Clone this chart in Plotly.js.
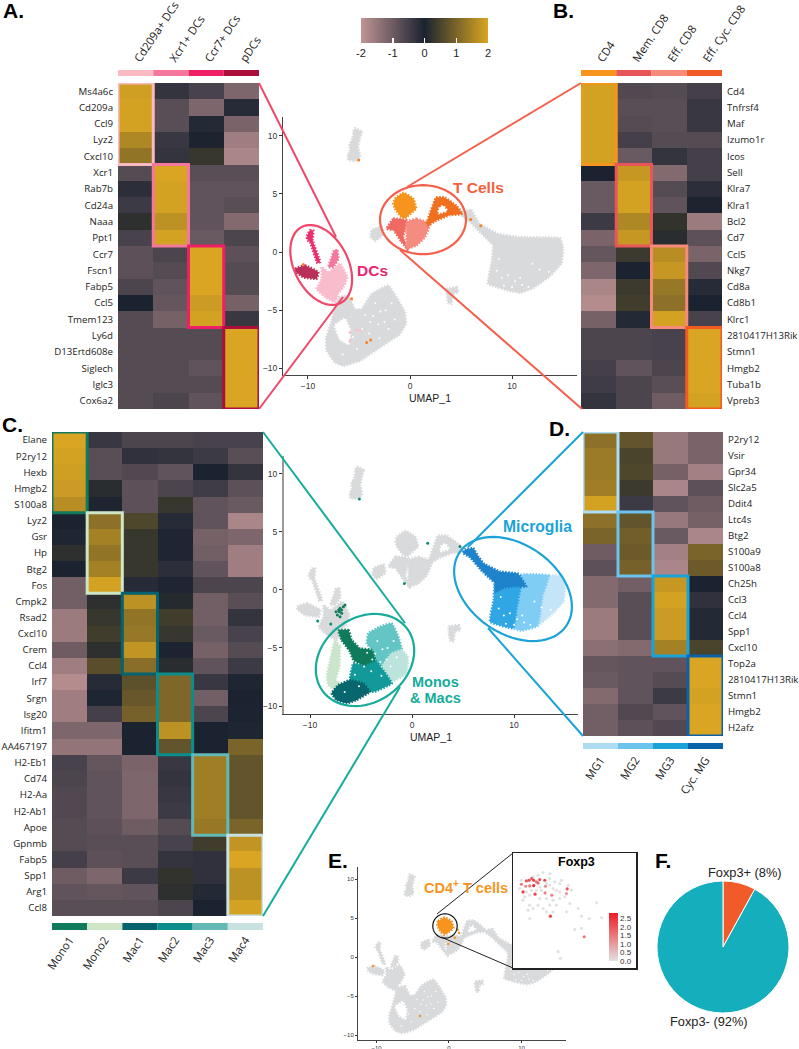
<!DOCTYPE html>
<html><head><meta charset="utf-8"><script src="https://cdn.plot.ly/plotly-3.0.1.min.js"></script>
<style>html,body{margin:0;padding:0;background:#fff}#p{width:799px;height:1049px}</style></head>
<body><div id="p"></div><script>
// ---------- heatmap data ----------
const colsA=["Cd209a+ DCs","Xcr1+ DCs","Ccr7+ DCs","pDCs"];
const genesA=["Ms4a6c","Cd209a","Ccl9","Lyz2","Cxcl10","Xcr1","Rab7b","Cd24a","Naaa","Ppt1","Ccr7","Fscn1","Fabp5","Ccl5","Tmem123","Ly6d","D13Ertd608e","Siglech","Iglc3","Cox6a2"];
const zA=[[1.9,-0.3,-0.55,-1.2],[1.95,-0.75,-1.2,-0.15],[1.95,-0.75,-0.1,-1.15],[1.55,-0.35,0.02,-1.6],[1.25,-0.3,0.3,-1.75],
[-0.7,2,-0.75,-0.75],[-0.2,1.95,-0.85,-0.85],[-0.4,1.95,-0.85,-0.75],[0.2,1.7,-0.85,-1.25],[-0.55,1.95,-0.95,-0.6],
[-0.8,-0.6,2,-0.8],[-0.8,-0.7,2,-0.7],[-0.6,-0.85,2,-0.7],[0,-0.9,1.85,-1.1],[-0.7,-1.1,1.95,-0.35],
[-0.7,-0.7,-0.7,2],[-0.7,-0.7,-0.7,2],[-0.7,-0.7,-0.85,2],[-0.7,-0.7,-0.7,2],[-0.7,-0.6,-0.85,2]];
const colsB=["CD4","Mem. CD8","Eff. CD8","Eff. Cyc. CD8"];
const genesB=["Cd4","Tnfrsf4","Maf","Izumo1r","Icos","Sell","Klra7","Klra1","Bcl2","Cd7","Ccl5","Nkg7","Cd8a","Cd8b1","Klrc1","2810417H13Rik","Stmn1","Hmgb2","Tuba1b","Vpreb3"];
const zB=[[1.95,-0.65,-0.7,-0.5],[1.95,-0.75,-0.75,-0.35],[1.95,-0.7,-0.75,-0.35],[1.95,-0.5,-0.7,-0.7],[1.95,-0.95,-0.3,-0.5],
[0,1.8,-1.25,-0.5],[-0.95,1.95,-0.7,-0.2],[-0.95,1.95,-0.85,0.02],[-0.4,1.55,0.25,-1.55],[-1.15,1.8,0.15,-0.8],
[-0.9,0.35,1.65,-1.15],[-1.2,0,1.8,-0.65],[-1.75,0.35,1.3,-0.15],[-1.85,0.4,1.2,0],[-1.1,-0.1,1.95,-0.55],
[-0.6,-0.6,-0.55,2],[-0.6,-0.6,-0.55,2],[-0.5,-0.85,-0.6,2],[-0.45,-0.6,-0.75,2],[-0.3,-0.6,-1,1.95]];
const colsC=["Mono1","Mono2","Mac1","Mac2","Mac3","Mac4"];
const genesC=["Elane","P2ry12","Hexb","Hmgb2","S100a8","Lyz2","Gsr","Hp","Btg2","Fos","Cmpk2","Rsad2","Cxcl10","Crem","Ccl4","Irf7","Srgn","Isg20","Ifitm1","AA467197","H2-Eb1","Cd74","H2-Aa","H2-Ab1","Apoe","Gpnmb","Fabp5","Spp1","Arg1","Ccl8"];
const zC=[[2,-0.35,-0.6,-0.6,-0.55,-0.55],[1.95,-0.75,-0.25,-0.3,-0.4,-0.75],[1.9,-0.75,-0.65,-0.85,0,-0.3],[1.85,0.15,-0.8,-0.6,-0.45,-0.8],[1.65,0.03,-0.8,0.3,-0.85,-0.95],
[0,1.2,0.55,-0.15,-0.85,-1.75],[-0.05,1.45,0.3,-0.05,-1.1,-1.2],[0.2,1.25,0.3,-0.05,-1.05,-1.6],[0,1.45,0.3,-0.2,-0.85,-1.6],[-1.05,1.95,-0.15,-0.05,-0.6,-0.6],
[-1.05,0.2,1.7,0.1,-1.05,-0.75],[-1.55,0.3,1.25,0.4,-1.05,-0.3],[-1.55,0.4,1.3,0.3,-0.95,-0.55],[-1,0.2,1.75,-0.02,-1.1,-0.7],[-1.6,0.65,1.15,0.15,-0.85,-0.4],
[-1.85,-0.15,0.7,1.05,-0.35,-0.05],[-1.6,-0.05,0.8,1.05,-1.05,0],[-1.6,-0.5,0.95,1.05,-0.6,-0.02],[-1.2,-1.2,0,1.7,0,-0.05],[-1.45,-1.45,0,0.75,0,1],
[-0.55,-0.9,-1.15,-0.35,1.4,0.75],[-0.6,-0.85,-1.2,-0.3,1.4,0.75],[-0.65,-0.85,-1.2,-0.35,1.4,0.75],[-0.65,-0.85,-1.2,-0.4,1.4,0.75],[-0.7,-0.8,-1,-0.7,1.3,1],
[-0.7,-0.75,-0.75,-0.55,0.4,1.75],[-0.5,-0.8,-0.75,-0.3,-0.25,2],[-1,-1.2,-0.4,0.25,-0.25,1.7],[-0.85,-0.9,-0.85,0.2,-0.1,1.7],[-0.75,-0.75,-0.75,-0.6,0,1.95]];
const colsD=["MG1","MG2","MG3","Cyc. MG"];
const genesD=["P2ry12","Vsir","Gpr34","Slc2a5","Ddit4","Ltc4s","Btg2","S100a9","S100a8","Ch25h","Ccl3","Ccl4","Spp1","Cxcl10","Top2a","2810417H13Rik","Stmn1","Hmgb2","H2afz"];
const zD=[[1.2,0.75,-1.5,-1.15],[1.35,0.5,-1.5,-1.15],[1.35,0.55,-1.1,-1.65],[1.4,0.35,-1.75,-0.8],[1.95,-0.4,-0.85,-1],
[1.2,0.75,-1.5,-1.1],[1,0.9,-0.95,-1.75],[-1,0.85,-1.65,1],[-0.8,0.95,-1.75,0.85],
[-1.25,-1.05,1.8,0],[-1.25,-0.75,1.95,-0.25],[-1.55,-0.75,1.85,-0.1],[-1.55,-0.75,1.85,-0.1],[-1.35,-1.25,1.45,0.5],
[-0.9,-0.85,-0.85,2],[-0.95,-0.85,-0.7,2],[-1.25,-0.85,-0.4,1.95],[-1.05,-0.65,-0.85,2],[-1.05,-0.8,-0.65,2]];
const blockA=[[0,5],[5,5],[10,5],[15,5]], blockB=blockA;
const blockC=[[0,5],[5,5],[10,5],[15,5],[20,5],[25,5]];
const blockD=[[0,5],[5,4],[9,5],[14,5]];
// ---------- UMAP cluster outlines (UMAP units) ----------
const topX=[-5.4,-4.74,-4.9,-5.07,-4.9,-5.4,-6.05,-6.1,-5.88,-5.95,-5.62,-5.56], topY=[10.63,10.34,9.77,9.05,8.19,7.84,7.9,8.33,8.76,9.2,9.77,10.34];
const smallX=[-3.76,-2.78,-2.61,-3.43,-3.86], smallY=[1.87,2.21,1.52,0.95,1.29];
const lowX=[3.6,4.58,4.74,4.18,4.08,3.76,3.6], lowY=[-3.16,-3.02,-3.45,-3.59,-4.45,-4.4,-3.59];
const mgX=[5.2,6,6.83,8.63,10.6,13.2,14.7,15,14.87,13.7,12.05,10.8,9.6,7.65,8,8.13,7,5.7,5.03], mgY=[3.45,3.6,2.44,1.58,1.3,1.25,1.2,0.43,-0.94,-2.1,-3.1,-3.5,-3.3,-2.73,-0.86,0.57,1.58,2.73,3.16];
const cycX=[5.2,6,6.5,7,8.6,10.4,11.2,9.9,9,8.2,8.1,7,5.7,5], cycY=[3.5,3.6,2.9,2.3,1.6,1.4,0.3,0.3,0.2,-0.2,0.6,1.5,2.8,3.2];
const mg3X=[8,8.13,10.6,10.6,10.3,9.9,7.65], mg3Y=[-0.86,0.57,0.6,0,-1.44,-3.3,-2.73];
const mg2X=[10.6,13.4,12.8,12.3,10.8,9.9,10.3,10.6], mg2Y=[1.3,1.25,-0.5,-3.1,-3.5,-3.3,-1.4,0];
const mg1X=[13.4,14.7,15,14.87,13.7,12.3,12.8], mg1Y=[1.25,1.2,0.43,-0.94,-2.1,-3.1,-0.5];
const macOutX=[-7.03,-6.05,-5.39,-4.74,-3.76,-2.12,-1.31,-0.49,-0.42,-0.98,-2.94,-4.9,-6.54,-7.35,-8.17,-8.24,-7.68,-7.35], macOutY=[-3.88,-3.74,-4.89,-4.89,-3.59,-2.87,-3.88,-5.17,-6.18,-7.04,-8.19,-9.34,-9.77,-9.48,-8.48,-7.47,-5.89,-4.6];
const macHoleX=[-6.86,-6.05,-5.88,-6.37,-7.35], macHoleY=[-7.47,-7.9,-6.75,-5.75,-6.32];
const mono1X=[-7.22,-6.24,-5.92,-5.1,-3.95,-3.63,-4.77,-5.75,-6.08,-6.9], mono1Y=[-3.5,-3.45,-4.31,-5.03,-5.17,-6.03,-6.47,-6.03,-5.31,-4.31];
const mono2X=[-7.55,-7.06,-7.12,-7.45,-7.06,-7.38,-8.2,-8.36,-8.03], mono2Y=[-4.31,-4.89,-6.6,-7.76,-8.05,-8.76,-8.19,-7.47,-6.03];
const mac1X=[-7.88,-7.22,-6.08,-4.77,-4.12,-5.42,-6.4,-7.4], mac1Y=[-8.9,-8.19,-7.76,-8.05,-8.76,-9.48,-9.77,-9.48];
const mac2X=[-6.08,-5.75,-4.77,-3.63,-2.97,-1.99,-3.63,-4.12,-4.77], mac2Y=[-7.76,-6.32,-6.47,-6.03,-6.75,-8.05,-8.76,-8.76,-8.05];
const mac3X=[-4.28,-3.14,-1.99,-1.34,-1.01,-1.99,-3.14,-3.63,-3.95,-4.44], mac3Y=[-3.74,-3.16,-2.87,-4.02,-5.17,-5.46,-6.61,-6.03,-5.17,-4.6];
const mac4X=[-1.99,-1.01,-0.42,-0.52,-1.99,-2.97], mac4Y=[-5.46,-5.17,-5.75,-7.18,-7.9,-6.75];
const dc1X=[-8.66,-8,-6.86,-6.54,-6.14,-6.54,-7.03,-7.35,-8.33,-9.15,-8.66], dc1Y=[-1.29,-1.72,-1,-1.44,-2.16,-3.02,-3.59,-4.31,-3.88,-3.16,-2.3];
const dc2X=[-7.45,-7.12,-7.03,-7.52,-8,-7.68], dc2Y=[0.14,0.14,-0.57,-1.29,-1.29,-0.43];
const dc3X=[-10.13,-9.8,-9.48,-9.54,-8.82,-9.08,-9.8,-9.97], dc3Y=[1.29,1.87,1.87,1,-0.86,-0.95,0.86,0.95];
const dc4X=[-11.27,-10.29,-8.99,-9.15,-10.46,-11.18], dc4Y=[-1.44,-1.15,-1.72,-2.3,-2.16,-1.72];
const cd4X=[-1.63,-1.47,-0.65,0.33,0.59,-0.33,-0.65,-1.14,-1.47], cd4Y=[4.17,4.6,5.09,4.6,3.74,3.02,2.87,3.3,3.74];
const cycTX=[1.63,2.12,2.55,3.43,4.58,5.14,3.92,2.61,1.8], cycTY=[2.44,3.74,4.68,4.68,3.94,3.3,3.16,2.73,2.3];
const cycHoleX=[2.9,2.8,3.6,3.25], cycHoleY=[3.8,3.35,3.55,3.95];
const memX=[-2.29,-1.63,-0.33,-0.65,-0.16,-0.82,-1.63], memY=[2.01,2.87,2.73,1.29,0.14,0.86,1.87];
const effX=[-0.33,0.65,1.96,1.47,0.65,-0.33,-0.33], effY=[2.59,2.87,2.44,1.29,0.57,0.29,1.29];
// white gaps in the big clouds
const gapX=[9.6,10.3,9.2,8.5,11,10.8,12.7,-3.6,-3.1,-2.5,-2.4,-4,-3,-5.2,-4.7,-3.4,-2.1,-6.6,12,13.6,9,11.6,10,8.7,-1.8,-2.9,-3.9,-1.5,-4.4,-5.6], gapY=[-2,-2.5,-2.9,-1.6,-2.8,-2.2,-1.5,-5.5,-6.2,-6,-5,-7,-7.4,-8.3,-6.6,-4.4,-6.6,-8.8,-1,-1.7,-2.2,-3,-3,-0.6,-4.4,-5.1,-6,-5.8,-5.4,-7.3];
// stray cells
const strayAX=[-5.03,-5.72,5.95,6.93,-4.25,-3.86,-10.46], strayAY=[7.9,-4.02,2.79,2.27,-7.76,-7.56,-1.06];
const pinkAX=[-5.88,-5.23,-4.9,-5.88], pinkAY=[-6.9,-6.7,-6.75,-7.61];
const strayCX=[1.54,4.7,-0.75,-9.25,-7.97,-5.16], strayCY=[4.02,3.74,0.57,-2.67,-2.93,7.84];
const clumpX=[-7.32,-7.12,-6.9,-6.73,-6.57,-7.19,-7.06,-7.45,-6.9,-7.06], clumpY=[-2.16,-1.87,-1.72,-1.44,-1.29,-1.72,-2.3,-1.87,-2.01,-1.58];
const strayEX=[-10.5,-4,-0.1,0.8,1.4,1.2], strayEY=[-1.15,-7.56,1.67,2.47,3.1,3.5];
// Foxp3 inset, in positions read inside the inset box
const inX=[670,690,655,640,690,705,720,745,755,605,600,615,630,660,680,700,720,735,690,710,655,630,610,640,670,680,700,625,630,750,775,830,785,808,845,765,785,740,720,700,665,650,635,620,690,710,725,715,722,680,660,605,620,628,636,642,650,660,655,675,677,642,630,618,610,646,676,696,742,740,692,793];
const inY=[97,100,105,110,115,125,130,135,150,120,145,170,165,175,175,180,175,170,195,195,195,195,180,205,205,215,215,210,235,190,205,188,228,235,233,268,265,215,155,145,150,150,150,155,135,150,120,335,355,130,140,132,122,120,115,120,125,118,128,120,138,136,137,138,155,162,158,165,146,160,228,290];
const inV=[0,0,0,0,0,0,0,0,0,0,0,0,0,0,0,0,0,0,0,0,0,0,0,0,0,0,0,0,0,0,0,0,0,0,0,0,0,0,0,0,0,0,0,0,0,0,0,0,0,0,0,1.5,2,2.2,2,2.2,1.5,2,1.8,2.2,1.2,2.6,1.5,1.2,2.4,2.2,1.3,1.3,2,1,2.3,1.5];
const pieLabels=["Foxp3+","Foxp3-"], pieValues=[8,92];
// ---------- style ----------
const W=799,H=1049, fx=p=>p/W, fy=p=>1-p/H;
const stripA=["#fbb9c1","#f4789b","#ef1f66","#ad0f3c"], stripB=["#f7941d","#e9565a","#f78b79","#f15a24"];
const stripC=["#127a5c","#cfe6c6","#04636f","#0a8d8c","#64b9b6","#c8e1e1"], stripD=["#aedcf3","#6cc4ec","#1ba3d8","#0a62a8"];
const greyC="#d9dadc", sans="'Liberation Sans',Arial,sans-serif", lab="'Open Sans',sans-serif";
const geoA={l:118,r:259,t:83,b:409,st:70,sb:76}, geoB={l:581,r:722,t:83,b:409,st:70,sb:76};
const geoC={l:52,r:263,t:432,b:916,st:923,sb:930}, geoD={l:583,r:723,t:432,b:736,st:743,sb:749};
const layout={width:W,height:H,margin:{l:0,r:0,t:0,b:0,autoexpand:false},paper_bgcolor:"#fff",plot_bgcolor:"rgba(0,0,0,0)",showlegend:false,
  font:{family:sans,color:"#222"},shapes:[],annotations:[],
  coloraxis:{colorscale:[[0,"#c09494"],[0.5,"#1b2330"],[1,"#d9a522"]],cmin:-2,cmax:2,
    colorbar:{orientation:"h",x:fx(424.5),xanchor:"center",y:fy(18),yanchor:"top",len:127,lenmode:"pixels",thickness:25,thicknessmode:"pixels",xpad:0,ypad:0,outlinewidth:0,
      tickmode:"array",tickvals:[-2,-1,0,1,2],ticktext:["-2","-1","0","1","2"],ticks:"inside",ticklen:5,tickwidth:1.5,tickcolor:"#fff",tickfont:{family:sans,size:11,color:"#222"}}},
  coloraxis2:{colorscale:[[0,"#e2e2e2"],[1,"#ee1c25"]],cmin:0,cmax:2.8,
    colorbar:{x:fx(609),xanchor:"left",y:fy(913),yanchor:"top",len:48,lenmode:"pixels",thickness:9,thicknessmode:"pixels",xpad:0,ypad:0,outlinewidth:0,tick0:0,dtick:0.5,tickformat:".1f",ticks:"",tickfont:{family:sans,size:8,color:"#333"}}}
};
const traces=[];
function heat(id,g,cols,genes,z,colors,blocks,top,right){
  const s=id===1?"":id, xk="xaxis"+s, yk="yaxis"+s;
  traces.push({type:"heatmap",x:cols,y:genes,z:z,xaxis:"x"+s,yaxis:"y"+s,coloraxis:"coloraxis",hoverinfo:"skip"});
  layout[xk]={domain:[fx(g.l),fx(g.r)],anchor:"y"+s,type:"category",range:[-0.5,cols.length-0.5],side:top?"top":"bottom",tickmode:"array",tickvals:cols,ticktext:cols,
    tickangle:-56,ticks:"outside",ticklen:12,tickcolor:"rgba(0,0,0,0)",tickfont:{family:lab,size:11.3,color:"#222"},showgrid:false,zeroline:false,showline:false};
  layout[yk]={domain:[fy(g.b),fy(g.t)],anchor:"x"+s,type:"category",range:[genes.length-0.5,-0.5],side:right?"right":"left",tickmode:"array",tickvals:genes,ticktext:genes,
    ticks:"outside",ticklen:2,tickcolor:"rgba(0,0,0,0)",tickfont:{family:lab,size:9.7,color:"#222"},showgrid:false,zeroline:false,showline:false};
  colors.forEach((c,i)=>{
    layout.shapes.push({type:"rect",xref:"x"+s,yref:"paper",x0:i-0.5,x1:i+0.5,y0:fy(g.sb),y1:fy(g.st),fillcolor:c,line:{width:0}});
  });
  colors.forEach((c,i)=>{
    const b=blocks[i];
    layout.shapes.push({type:"rect",xref:"x"+s,yref:"y"+s,x0:i-0.5,x1:i+0.5,y0:b[0]-0.5,y1:b[0]+b[1]-0.5,fillcolor:"rgba(0,0,0,0)",line:{color:c,width:3}});
  });
}
heat(1,geoA,colsA,genesA,zA,stripA,blockA,true,false);
heat(2,geoB,colsB,genesB,zB,stripB,blockB,true,true);
heat(3,geoC,colsC,genesC,zC,stripC,blockC,false,false);
heat(4,geoD,colsD,genesD,zD,stripD,blockD,false,true);
function joined(list,k){let out=[];list.forEach((p,i)=>{if(i)out.push(null);out=out.concat(p[k]);out.push(p[k][0]);});return out;}
function blob(id,list,color){
  traces.push({type:"scatter",mode:"lines",xaxis:"x"+id,yaxis:"y"+id,x:joined(list,0),y:joined(list,1),fill:"toself",fillcolor:color,line:{color:color,width:2.5,dash:"1.5px,1.5px",shape:"spline",smoothing:0.3},hoverinfo:"skip"});
}
function dots(id,x,y,color,size){
  traces.push({type:"scatter",mode:"markers",xaxis:"x"+id,yaxis:"y"+id,x:x,y:y,marker:{color:color,size:size},hoverinfo:"skip"});
}
function umapAxes(id,g,tf,tl,opts){
  layout["xaxis"+id]=Object.assign({domain:[fx(g.l),fx(g.r)],anchor:"y"+id,range:g.xr,tickmode:"array",tickvals:[-10,0,10],ticks:"outside",ticklen:tl,tickwidth:1,tickcolor:"#333",showline:true,linecolor:"#444",linewidth:1,showgrid:false,zeroline:false,tickfont:{family:sans,size:tf,color:"#333"}},opts.x||{});
  layout["yaxis"+id]=Object.assign({domain:[fy(g.b),fy(g.t)],anchor:"x"+id,range:g.yr,tickmode:"array",tickvals:[-10,-5,0,5,10],ticks:"outside",ticklen:tl,tickwidth:1,tickcolor:"#333",showline:true,linecolor:"#444",linewidth:1,showgrid:false,zeroline:false,tickfont:{family:sans,size:tf,color:"#333"}},opts.y||{});
}
const islands=[[topX,topY],[smallX,smallY],[lowX,lowY]];
const tGroup=[[cd4X,cd4Y],[cycTX,cycTY],[memX,memY],[effX,effY]];
const dcGroup=[[dc1X,dc1Y],[dc2X,dc2Y],[dc3X,dc3Y],[dc4X,dc4Y]];
const macGrey=[[macOutX,macOutY]], mgGrey=[[mgX,mgY]];
const ttl=(t,sz)=>({text:t,font:{family:sans,size:sz,color:"#222"},standoff:4});
// panel A/B UMAP
umapAxes(5,{l:283,r:577,t:117,b:375,xr:[-12.45,16.37],yr:[-10.56,11.6]},8.5,3,{x:{title:ttl("UMAP_1",10.5)}});
blob(5,islands.concat(macGrey,mgGrey),greyC);
blob(5,[[macHoleX,macHoleY]],"#fff");
dots(5,gapX,gapY,"#fff",2);
blob(5,[[dc1X,dc1Y]],"#f9bccd");blob(5,[[dc2X,dc2Y]],"#f5799b");blob(5,[[dc3X,dc3Y]],"#e8306c");blob(5,[[dc4X,dc4Y]],"#b9305a");
blob(5,[[memX,memY]],"#ee6a62");blob(5,[[effX,effY]],"#f58c80");blob(5,[[cd4X,cd4Y]],"#f7941d");blob(5,[[cycTX,cycTY]],"#f0701f");blob(5,[[cycHoleX,cycHoleY]],"#fff");
dots(5,strayAX,strayAY,"#f58220",3);dots(5,pinkAX,pinkAY,"#f8c0cd",3);
// panel C/D UMAP
umapAxes(6,{l:284,r:578,t:456,b:714,xr:[-12.55,16.27],yr:[-10.69,11.55]},8.5,3,{x:{title:ttl("UMAP_1",10.5)},y:{linecolor:"#999",linewidth:2}});
blob(6,islands.concat(dcGroup,tGroup),greyC);
blob(6,[[cycHoleX,cycHoleY]],"#fff");
blob(6,[[mg1X,mg1Y]],"#c4e5f7");blob(6,[[mg2X,mg2Y]],"#7fcdf4");blob(6,[[mg3X,mg3Y]],"#31a6e5");blob(6,[[cycX,cycY]],"#1f83cc");
blob(6,[[mono2X,mono2Y]],"#cbe4cc");blob(6,[[mac3X,mac3Y]],"#63c6c4");blob(6,[[mac4X,mac4Y]],"#bce4dc");blob(6,[[mac2X,mac2Y]],"#129a9b");blob(6,[[mac1X,mac1Y]],"#07666e");blob(6,[[mono1X,mono1Y]],"#0f7a5c");
dots(6,gapX,gapY,"#fff",2);
dots(6,clumpX,clumpY,"#0f7a5c",3);dots(6,strayCX,strayCY,"#0f8a78",3);
// panel E UMAP
umapAxes(7,{l:358,r:566,t:867,b:1040,xr:[-12.55,16.14],yr:[-10.63,11.55]},6,2,{});
blob(7,islands.concat(dcGroup,tGroup,macGrey,mgGrey),greyC);
blob(7,[[macHoleX,macHoleY],[cycHoleX,cycHoleY]],"#fff");
dots(7,gapX,gapY,"#fff",1.5);
blob(7,[[cd4X,cd4Y]],"#f7941d");dots(7,strayEX,strayEY,"#f7941d",2.5);
// Foxp3 inset
layout.xaxis8={domain:[fx(513),fx(636)],anchor:"y8",range:[580,948],showticklabels:false,ticks:"",showgrid:false,zeroline:false,showline:true,mirror:true,linecolor:"#222",linewidth:1.5};
layout.yaxis8={domain:[fy(968),fy(853)],anchor:"x8",range:[384,38],showticklabels:false,ticks:"",showgrid:false,zeroline:false,showline:true,mirror:true,linecolor:"#222",linewidth:1.5};
traces.push({type:"scatter",mode:"lines",xaxis:"x8",yaxis:"y8",x:[580,948,948,580,580],y:[38,38,384,384,38],fill:"toself",fillcolor:"#fff",line:{width:0},hoverinfo:"skip"});
traces.push({type:"scatter",mode:"markers",xaxis:"x8",yaxis:"y8",x:inX,y:inY,marker:{size:3.2,color:inV,coloraxis:"coloraxis2"},hoverinfo:"skip"});
// pie
traces.push({type:"pie",labels:pieLabels,values:pieValues,sort:false,direction:"clockwise",rotation:0,textinfo:"none",hoverinfo:"skip",domain:{x:[fx(657),fx(789)],y:[fy(1013),fy(881)]},marker:{colors:["#f15a29","#14aebc"],line:{color:"#fff",width:1}}});
// connector lines & ellipses
function seg(x0,y0,x1,y1,c,w){layout.shapes.push({type:"line",xref:"paper",yref:"paper",x0:fx(x0),y0:fy(y0),x1:fx(x1),y1:fy(y1),line:{color:c,width:w}});}
function ell(cx,cy,a,b,deg,c,w){
  const t=deg*Math.PI/180;let d="";
  for(let i=0;i<=72;i++){const u=i/72*2*Math.PI,px=cx+a*Math.cos(u)*Math.cos(t)-b*Math.sin(u)*Math.sin(t),py=cy+a*Math.cos(u)*Math.sin(t)+b*Math.sin(u)*Math.cos(t);
    d+=(i?"L":"M")+fx(px).toFixed(5)+","+fy(py).toFixed(5);}
  layout.shapes.push({type:"path",xref:"paper",yref:"paper",path:d+"Z",line:{color:c,width:w},fillcolor:"rgba(0,0,0,0)"});
}
const pink="#f0476a",tcol="#f5604d",teal="#15ac9a",blue="#1ba3d8";
seg(259,83,336,237,pink,2);seg(259,409,343,297,pink,2);
seg(581,83,407,187,tcol,2);seg(582,409,400,250,tcol,2);
seg(263,432,405,623,teal,2);seg(263,916,400,687,teal,2);
seg(583,432,468,547,blue,2);seg(583,736,488,628,blue,2);
ell(321.2,265,42.7,27,63,pink,2.2);
ell(423,219.7,43,34.5,0,tcol,2.2);
ell(365,660,52.5,42.3,-36,teal,2.2);
ell(513,589,64.8,44.5,35,blue,2.2);
seg(437,914,513,853,"#222",1);seg(441,937,513,968,"#222",1);
ell(445,926,12.2,12.2,0,"#111",1.2);
// text
function note(t,x,y,sz,c,anchor,bold){layout.annotations.push({xref:"paper",yref:"paper",x:fx(x),y:fy(y),text:bold?"<b>"+t+"</b>":t,showarrow:false,xanchor:anchor,yanchor:"middle",borderpad:0,font:{family:sans,size:sz,color:c}});}
[["A.",2,11],["B.",552,11],["C.",1,424],["D.",548,428],["E.",327,860],["F.",654,860]].forEach(a=>note(a[0],a[1],a[2],21,"#000","left",true));
note("T Cells",452,187,15.5,"#f2603c","left",true);
note("DCs",356,270,15.5,"#e8256f","left",true);
note("Microglia",502,526,15.7,blue,"left",true);
note("Monos",435,682,14.5,teal,"center",true);
note("& Macs",435,698,14.5,teal,"center",true);
note("CD4<sup>+</sup> T cells",423,887,14.5,"#f7941d","left",true);
note("Foxp3",576,862,12.5,"#000","center",true);
note("Foxp3+ (8%)",745,872,12.8,"#222","center",false);
note("Foxp3- (92%)",709,1021,12.8,"#222","center",false);
Plotly.newPlot("p",traces,layout,{displayModeBar:false,staticPlot:true});
</script></body></html>
